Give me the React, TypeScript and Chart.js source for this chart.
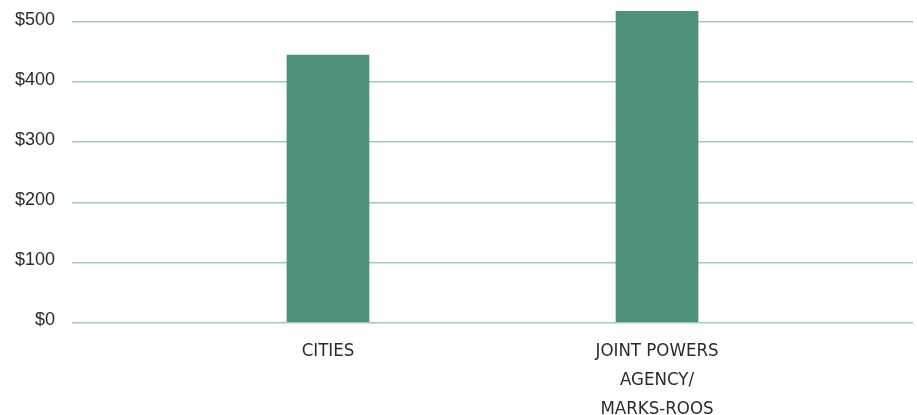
import React, { useEffect, useRef } from "react";
import { Chart, registerables } from "chart.js";

Chart.register(...registerables);

const categories: string[][] = [["CITIES"], ["JOINT POWERS", "AGENCY/", "MARKS-ROOS"]];
const values: number[] = [445, 518];
const yTicks: number[] = [0, 100, 200, 300, 400, 500];

export default function App() {
  const ref = useRef<HTMLCanvasElement | null>(null);
  useEffect(() => {
    if (!ref.current) return;
    const chart = new Chart(ref.current, {
      type: "bar",
      data: {
        datasets: [
          {
            data: values.map((v, i) => ({ x: i, y: v })),
            backgroundColor: "#4e917a",
            borderWidth: 0,
            barThickness: 82,
          },
        ],
      },
      options: {
        animation: false,
        responsive: true,
        maintainAspectRatio: false,
        layout: { padding: { top: 7, left: 14, right: 4, bottom: 0 } },
        plugins: { legend: { display: false }, tooltip: { enabled: false } },
        scales: {
          x: {
            type: "linear",
            offset: false,
            min: -0.778,
            max: 1.778,
            grid: { display: false },
            border: { display: false },
            afterBuildTicks: (s: any) => {
              s.ticks = categories.map((_, i) => ({ value: i }));
            },
            afterFit: (s: any) => {
              s.height = 98.5;
              s.paddingLeft = 0;
              s.paddingRight = 0;
            },
            ticks: {
              autoSkip: false,
              maxRotation: 0,
              padding: 6,
              color: "#2b2b2b",
              font: {
                family: "'Liberation Sans Narrow', 'DejaVu Sans Condensed', 'Liberation Sans', sans-serif",
                size: 18.5,
                lineHeight: 1.57,
              },
              callback: (v: any) => categories[v as number],
            },
          },
          y: {
            min: 0,
            max: 525,
            grid: { color: "#a0cbbc", lineWidth: 1.5, drawTicks: false },
            border: { display: false },
            afterBuildTicks: (s: any) => {
              s.ticks = yTicks.map((v) => ({ value: v }));
            },
            afterFit: (s: any) => {
              s.width = 58;
              s.paddingTop = 0;
              s.paddingBottom = 0;
            },
            ticks: {
              padding: 17,
              color: "#2b2b2b",
              labelOffset: -2,
              font: { family: "'Liberation Sans', sans-serif", size: 18 },
              callback: (v: any) => "$" + v,
            },
          },
        },
      },
    });
    return () => chart.destroy();
  }, []);
  return (
    <div style={{ position: "fixed", left: 0, top: 0, width: 917, height: 421 }}>
      <canvas ref={ref} />
    </div>
  );
}
